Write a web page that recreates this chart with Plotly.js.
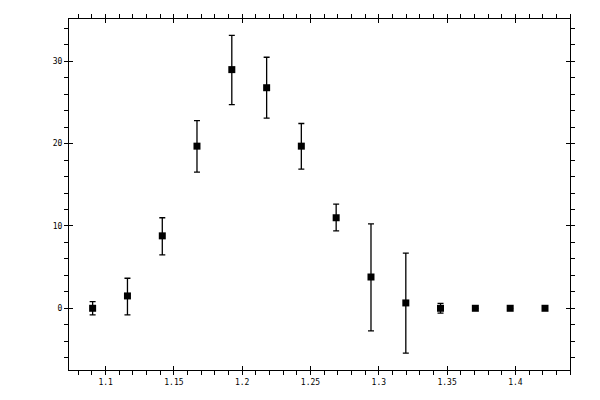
<!DOCTYPE html>
<html>
<head>
<meta charset="utf-8">
<script src="https://cdn.plot.ly/plotly-3.0.1.min.js"></script>
<style>
  html, body { margin: 0; padding: 0; background: #fff; }
  #plot { width: 600px; height: 400px; }
</style>
</head>
<body>
<div id="plot"></div>
<script>
const xVals = [1.0905, 1.1160, 1.1415, 1.1669, 1.1924, 1.2179, 1.2433, 1.2688, 1.2943, 1.3198, 1.3452, 1.3707, 1.3962, 1.4217];
const yVals = [0, 1.5, 8.8, 19.7, 29.0, 26.8, 19.7, 11.0, 3.8, 0.65, 0, 0, 0, 0];
const errUp = [0.8, 2.15, 2.2, 3.1, 4.15, 3.7, 2.75, 1.65, 6.45, 6.05, 0.6, 0, 0, 0];
const errDown = [0.8, 2.3, 2.3, 3.15, 4.25, 3.7, 2.8, 1.6, 6.55, 6.1, 0.6, 0, 0, 0];

const xTickVals = [1.1, 1.15, 1.2, 1.25, 1.3, 1.35, 1.4];
const xTickText = ['1.1', '1.15', '1.2', '1.25', '1.3', '1.35', '1.4'];
const yTickVals = [0, 10, 20, 30];
const yTickText = ['0', '10', '20', '30'];

const xRange = [1.0732, 1.44];
const yRange = [-7.5, 35.15];

const points = {
  type: 'scatter',
  mode: 'markers',
  x: xVals,
  y: yVals,
  marker: { symbol: 'square', size: 7, color: '#000' },
  error_y: {
    type: 'data',
    symmetric: false,
    array: errUp,
    arrayminus: errDown,
    color: '#000',
    thickness: 1.3,
    width: 3
  },
  showlegend: false,
  hoverinfo: 'none'
};

// outer axes: labels, outward major + minor ticks
const xOuter = {
  range: xRange,
  tickmode: 'array',
  tickvals: xTickVals,
  ticktext: xTickText,
  ticks: 'outside',
  ticklen: 4,
  tickwidth: 1,
  tickcolor: '#000',
  minor: { dtick: 0.01, tick0: 1.1, ticks: 'outside', ticklen: 4, tickwidth: 1, tickcolor: '#000' },
  showline: true,
  linecolor: '#000',
  linewidth: 1,
  mirror: 'ticks',
  showgrid: false,
  zeroline: false,
  tickfont: { family: 'DejaVu Sans Mono', size: 8, color: '#000' }
};
const yOuter = {
  range: yRange,
  tickmode: 'array',
  tickvals: yTickVals,
  ticktext: yTickText,
  ticks: 'outside',
  ticklen: 4,
  tickwidth: 1,
  tickcolor: '#000',
  minor: { dtick: 2, tick0: 0, ticks: 'outside', ticklen: 4, tickwidth: 1, tickcolor: '#000' },
  showline: true,
  linecolor: '#000',
  linewidth: 1,
  mirror: 'ticks',
  showgrid: false,
  zeroline: false,
  tickfont: { family: 'DejaVu Sans Mono', size: 8, color: '#000' }
};

// overlaid axes: inward half of the major ticks
const xInner = {
  overlaying: 'x',
  anchor: 'y',
  side: 'bottom',
  range: xRange,
  tickmode: 'array',
  tickvals: xTickVals,
  ticks: 'inside',
  ticklen: 4,
  tickwidth: 1,
  tickcolor: '#000',
  showticklabels: false,
  showline: true,
  linecolor: '#000',
  mirror: 'ticks',
  showgrid: false,
  zeroline: false
};
const yInner = {
  overlaying: 'y',
  anchor: 'x',
  side: 'left',
  range: yRange,
  tickmode: 'array',
  tickvals: yTickVals,
  ticks: 'inside',
  ticklen: 4,
  tickwidth: 1,
  tickcolor: '#000',
  showticklabels: false,
  showline: true,
  linecolor: '#000',
  mirror: 'ticks',
  showgrid: false,
  zeroline: false
};

const helper = { type: 'scatter', x: [], y: [], xaxis: 'x2', yaxis: 'y2', showlegend: false, hoverinfo: 'none' };

const layout = {
  width: 600,
  height: 400,
  margin: { l: 69, r: 30, t: 19, b: 30 },
  paper_bgcolor: '#fff',
  plot_bgcolor: '#fff',
  xaxis: xOuter,
  yaxis: yOuter,
  xaxis2: xInner,
  yaxis2: yInner
};

Plotly.newPlot('plot', [points, helper], layout, { displayModeBar: false, staticPlot: true });
</script>
</body>
</html>
